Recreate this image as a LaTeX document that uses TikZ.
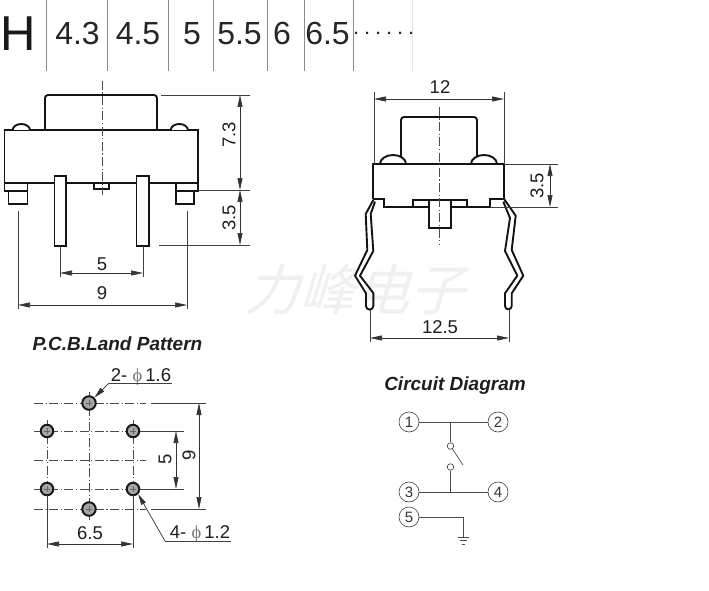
\documentclass[tikz,border=0pt]{standalone}
\usepackage{fontspec}
\setmainfont{Liberation Sans}
\newfontfamily\cjk{Noto Sans CJK SC}
\newfontfamily\phifont{Liberation Serif}
\usetikzlibrary{arrows.meta}
\tikzset{
  x=1pt,y=-1pt,
  outline/.style={line width=1.9pt,black!92,line join=miter},
  thinline/.style={line width=0.7pt,black!75},
  sep/.style={line width=0.7pt,black!45},
  dim/.style={line width=0.7pt,black!80,{Stealth[length=12pt,width=5pt,inset=0pt]}-{Stealth[length=12pt,width=5pt,inset=0pt]}},
  leader/.style={line width=0.7pt,black!80,{Stealth[length=11pt,width=5pt,inset=0pt]}-},
  center line/.style={line width=0.6pt,black!70,dash pattern=on 9pt off 2.5pt on 1.2pt off 2.5pt},
  dimtext/.style={font=\fontsize{18.5}{18.5}\selectfont,inner sep=0pt,text=black!88},
  head/.style={font=\fontsize{32}{32}\selectfont,inner sep=0pt,text=black!85},
  titletext/.style={font=\fontsize{19}{19}\selectfont\bfseries\itshape,inner sep=0pt,text=black!88},
  pad/.style={circle,draw=black!90,line width=2pt,fill=black!35,minimum size=12.5pt,inner sep=0pt},
  term/.style={circle,draw=black!75,line width=0.6pt,minimum size=20pt,inner sep=0pt,font=\fontsize{15}{15}\selectfont,text=black!80},
  contact/.style={circle,draw=black!80,line width=0.6pt,fill=white,minimum size=6.5pt,inner sep=0pt},
  wire/.style={line width=0.7pt,black!70},
  padcross/.style={line width=0.4pt,black!60},
}
\begin{document}
\begin{tikzpicture}
\useasboundingbox (0,0) rectangle (709,591);
\fill[white] (0,0) rectangle (709,591);
% watermark
\node[inner sep=0pt,text=black!6,font=\cjk\fontsize{55}{55}\selectfont,xslant=0.3] (wm) at (361,290) {力峰电子};
% header
\node[inner sep=0pt,anchor=west,font=\fontsize{49}{49}\selectfont,text=black!90] (hH) at (0.3,33.5) {H};
\foreach \x in {46.5,107.5,168,213,267,304.5,353} \draw[sep] (\x,0) -- (\x,71);
\draw[line width=0.5pt,black!10] (412,0) -- (412,71);
\node[head] (h1) at (77.5,33.5) {4.3};
\node[head] (h2) at (138,33.5) {4.5};
\node[head] (h3) at (192,33.5) {5};
\node[head] (h4) at (239.5,33.5) {5.5};
\node[head] (h5) at (282,33.5) {6};
\node[head] (h6) at (327.5,33.5) {6.5};
\node[inner sep=0pt,anchor=base west,font=\fontsize{15}{15}\selectfont\bfseries,text=black!85] (hd) at (354,35) {.\kern6.8pt.\kern6.8pt.\kern6.8pt.\kern6.8pt.\kern6.8pt.};
% front view
\draw[outline,rounded corners=3pt] (45,130) -- (45,95) -- (157,95) -- (157,130);
\draw[outline] (4.5,130) rectangle (198,183);
\draw[outline,fill=white] (12.7,130) arc[start angle=180,end angle=360,x radius=8.6,y radius=6];
\draw[outline,fill=white] (170.7,130) arc[start angle=180,end angle=360,x radius=8.6,y radius=6];
\draw[outline] (4.5,183) -- (4.5,191) -- (27.5,191) -- (27.5,183);
\draw[outline] (176,183) -- (176,191) -- (198,191) -- (198,183);
\draw[outline,line width=1.6pt] (8.5,191) -- (8.5,204) -- (27.5,204) -- (27.5,191);
\draw[outline,line width=1.6pt] (176,191) -- (176,204) -- (194,204) -- (194,191);
\draw[outline,fill=white] (54.5,176) rectangle (66,246);
\draw[outline,fill=white] (136.5,176) rectangle (149,246);
\draw[outline,line width=1.4pt,fill=white] (94,183) rectangle (109,189);
\draw[center line] (102,81) -- (102,195);
% front dims
\draw[thinline] (161,95) -- (250,95);
\draw[thinline] (198,190) -- (250,190);
\draw[thinline] (159,245) -- (250,245);
\draw[dim] (240,95) -- (240,190);
\draw[dim] (240,190) -- (240,245);
\node[dimtext,rotate=90] (d73) at (229,135) {7.3};
\node[dimtext,rotate=90] (d35a) at (229,218) {3.5};
\draw[thinline] (60,246) -- (60,277);
\draw[thinline] (143,246) -- (143,277);
\draw[dim] (60,273) -- (143,273);
\node[dimtext] (d5a) at (102,264) {5};
\draw[thinline] (18,211) -- (18,309);
\draw[thinline] (187,211) -- (187,309);
\draw[dim] (18,305) -- (187,305);
\node[dimtext] (d9a) at (102,293) {9};
% side view
\draw[outline,rounded corners=3pt] (401,164) -- (401,117) -- (477,117) -- (477,164);
\draw[outline,fill=white] (380,164) arc[start angle=180,end angle=360,x radius=13,y radius=9];
\draw[outline,fill=white] (471,164) arc[start angle=180,end angle=360,x radius=13,y radius=9];
\draw[outline] (373,199) -- (373,164) -- (504,164) -- (504,199);
\draw[outline] (373,199) -- (384,199) -- (384,207) -- (490,207) -- (490,199) -- (504,199);
\draw[outline] (413,207) -- (413,200) -- (467,200) -- (467,207);
\draw[outline,fill=white] (429,200) rectangle (451,228);
\draw[center line] (439,107) -- (439,245);
\draw[outline,line join=round] (373.3,200) -- (365.7,214) -- (367.3,250) -- (355,275.7) -- (366,293.3) -- (366,306) arc[start angle=180,end angle=0,radius=3.65] -- (373.3,293) -- (360,275.7) -- (373.3,251) -- (370.7,214) -- (375,201.7);
\draw[outline,line join=round] (504.3,199.3) -- (515.7,215.7) -- (511.7,250) -- (523.3,275.7) -- (511.7,293.3) -- (511.7,306) arc[start angle=0,end angle=180,radius=3.35] -- (505,293.3) -- (517.3,275.7) -- (505,251) -- (510,218) -- (503.3,201.7);
% side dims
\draw[thinline] (374,92) -- (374,164);
\draw[thinline] (504,92) -- (504,164);
\draw[dim] (374,99) -- (504,99);
\node[dimtext] (d12) at (440,87) {12};
\draw[thinline] (504,164) -- (558,164);
\draw[thinline] (490,207) -- (558,207);
\draw[dim] (550,164) -- (550,207);
\node[dimtext,rotate=90] (d35b) at (537,186) {3.5};
\draw[thinline] (370,310) -- (370,342);
\draw[thinline] (509,310) -- (509,342);
\draw[dim] (370,338) -- (509,338);
\node[dimtext] (d125) at (440,327) {12.5};
% PCB
\node[titletext] (pcb) at (117.5,344) {P.C.B.Land Pattern};
\foreach \y in {403,431,460,489,509} \draw[center line] (34,\y) -- (146,\y);
\draw[center line] (47,420) -- (47,512);
\draw[center line] (89,392) -- (89,520);
\draw[center line] (133,420) -- (133,512);
\node[pad,minimum size=13.5pt] (p1) at (89,403) {};
\node[pad,minimum size=13.5pt] (p6) at (89,509) {};
\node[pad] (p2) at (47,431) {};
\node[pad] (p3) at (133,431) {};
\node[pad] (p4) at (47,489) {};
\node[pad] (p5) at (133,489) {};
\foreach \px/\py in {89/403,89/509,47/431,133/431,47/489,133/489}
  \draw[padcross] (\px-3,\py) -- (\px+3,\py) (\px,\py-3) -- (\px,\py+3);
\draw[thinline] (151,403) -- (206,403);
\draw[thinline] (151,509) -- (206,509);
\draw[dim] (199,403) -- (199,509);
\node[dimtext,rotate=90] (d9b) at (189,455) {9};
\draw[thinline] (p3) -- (184,431);
\draw[thinline] (p5) -- (184,489);
\draw[dim] (176,431) -- (176,489);
\node[dimtext,rotate=90] (d5b) at (165,459) {5};
\draw[thinline] (47,495) -- (47,548);
\draw[thinline] (133,495) -- (133,548);
\draw[dim] (47,544) -- (133,544);
\node[dimtext] (d65) at (90,533) {6.5};
\node[dimtext,anchor=base] (l16) at (141,381) {2- {\phifont\color{black!55}ϕ}\,1.6};
\coordinate (l16a) at (172,383);
\coordinate (l16b) at (109,383);
\draw[thinline] (l16a) -- (l16b);
\draw[leader] (p1.north east) -- (l16b);
\node[dimtext,anchor=base] (l12) at (200,538) {4- {\phifont\color{black!55}ϕ}\,1.2};
\coordinate (l12a) at (231,541);
\coordinate (l12b) at (165,541);
\draw[thinline] (l12a) -- (l12b);
\draw[leader] (p5.south east) -- (l12b);
% circuit
\node[titletext] (cd) at (455,386) {Circuit Diagram};
\node[term] (t1) at (409,422) {1};
\node[term] (t2) at (498,422) {2};
\node[term] (t3) at (409,492) {3};
\node[term] (t4) at (498,492) {4};
\node[term] (t5) at (409,517) {5};
\node[contact] (c1) at (450.5,446) {};
\node[contact] (c2) at (450.5,467) {};
\coordinate (j1) at (450.5,422);
\coordinate (j2) at (450.5,492);
\coordinate (lev) at (463,465);
\coordinate (g) at (463,537);
\draw[wire] (t1) -- (t2);
\draw[wire] (t3) -- (t4);
\draw[wire] (j1) -- (c1);
\draw[wire] (c2) -- (j2);
\draw[wire] (c1) -- (lev);
\draw[wire] (t5) -| (g);
\draw[wire,line width=0.6pt] (457.5,537) -- (468.5,537);
\draw[wire,line width=0.6pt] (459.5,540.5) -- (466.5,540.5);
\draw[wire,line width=0.6pt] (461.5,544) -- (464.5,544);
\end{tikzpicture}
\end{document}
